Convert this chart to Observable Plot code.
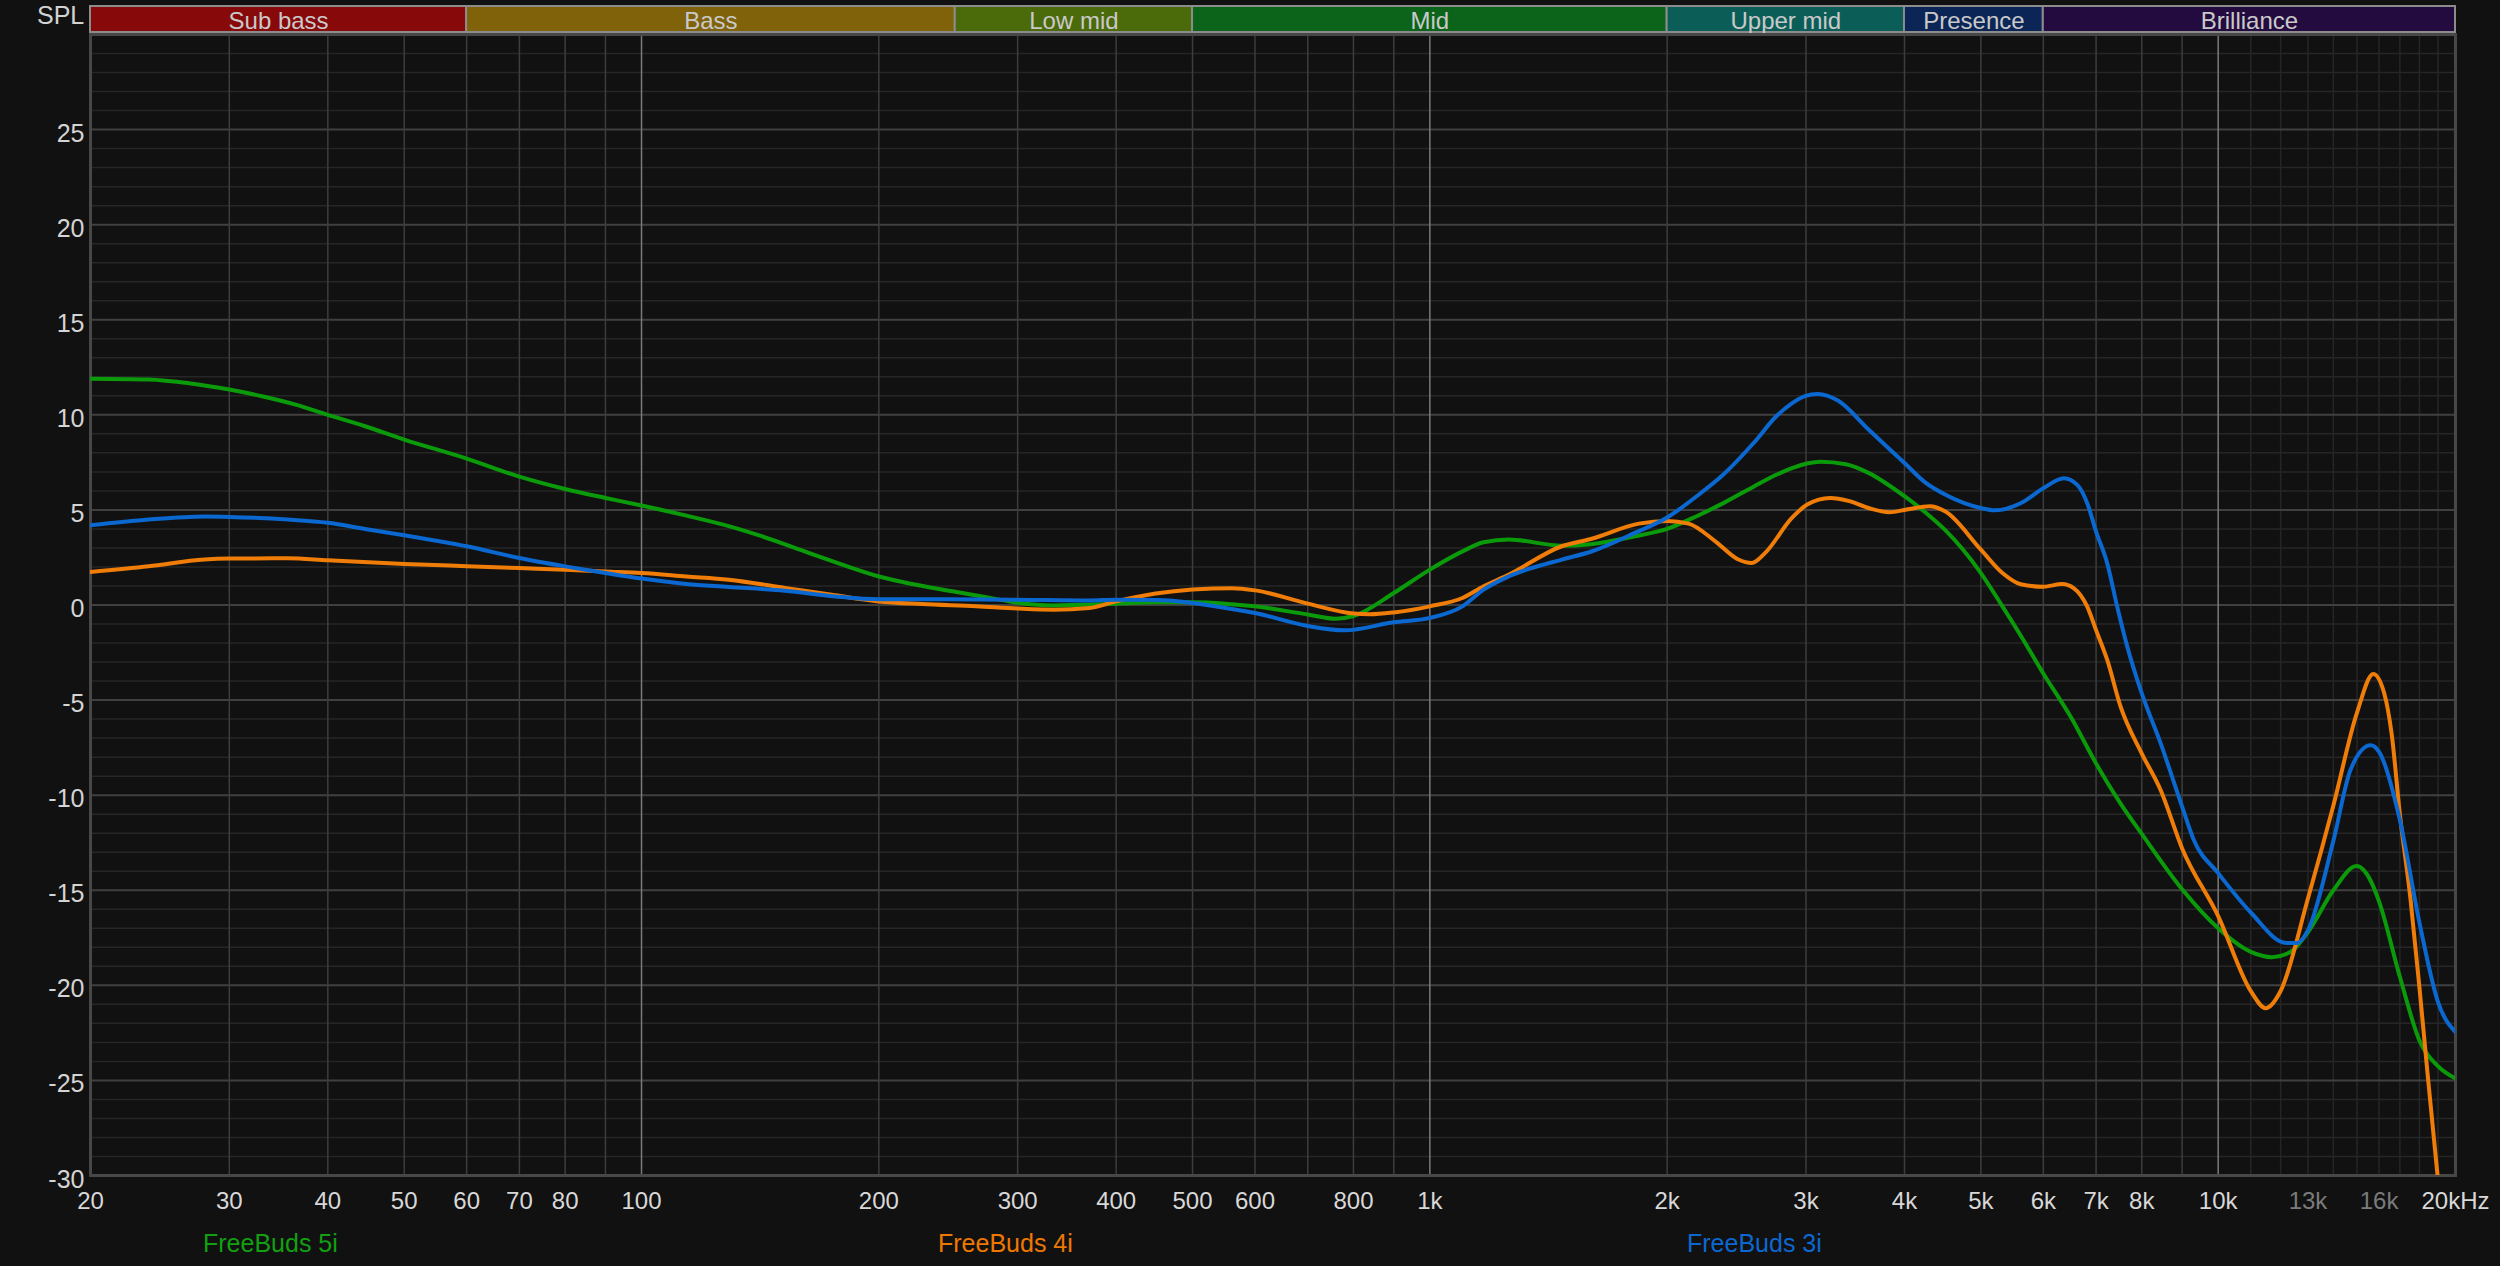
<!DOCTYPE html>
<html>
<head>
<meta charset="utf-8">
<script src="https://cdn.jsdelivr.net/npm/d3@7"></script>
<script src="https://cdn.jsdelivr.net/npm/@observablehq/plot@0.6"></script>
<style>
  html, body { margin: 0; padding: 0; background: #111111; }
  #root { position: relative; width: 2500px; height: 1266px; background: #111111; overflow: hidden;
          font-family: "Liberation Sans", Arial, sans-serif; }
  #bands { position: absolute; left: 0; top: 0; }
  #chart { position: absolute; left: 0; top: 30px; }
  #spl { position: absolute; left: 37px; top: 1px; font-size: 25px; line-height: 28px; color: #d2d2d2; }
  .leg { position: absolute; top: 1228px; font-size: 25px; line-height: 30px; white-space: nowrap; }
</style>
</head>
<body>
<div id="root">
  <div id="bands"></div>
  <div id="spl">SPL</div>
  <div id="chart"></div>
  <div id="legend"></div>
</div>
<script>
// ---------------- DATA ----------------
const bandNames = ["Sub bass", "Bass", "Low mid", "Mid", "Upper mid", "Presence", "Brilliance"];
const bandEdges = [20, 60, 250, 500, 2000, 4000, 6000, 20000];

const seriesNames = ["FreeBuds 5i", "FreeBuds 4i", "FreeBuds 3i"];

// [frequency Hz, SPL dB]
const freeBuds5i = [
  [20, 11.9], [23.7, 11.86], [26.8, 11.65], [30, 11.33], [33, 10.98], [36.4, 10.54], [40, 10.0],
  [44.6, 9.4], [50, 8.7], [60, 7.7], [70, 6.75], [80, 6.1], [90, 5.63], [100, 5.23], [114, 4.7],
  [129, 4.15], [142, 3.62], [162, 2.78], [176, 2.25], [200, 1.5], [215, 1.2], [248, 0.72], [277, 0.37],
  [300, 0.12], [333, -0.02], [400, 0.07], [450, 0.14], [500, 0.14], [550, 0.07], [600, -0.07],
  [700, -0.5], [760, -0.72], [800, -0.58], [900, 0.63], [1000, 1.86], [1100, 2.82], [1170, 3.3],
  [1260, 3.44], [1470, 3.12], [1600, 3.2], [1820, 3.61], [2000, 4.0], [2180, 4.67], [2360, 5.37],
  [2580, 6.25], [2755, 6.86], [2880, 7.2], [3130, 7.53], [3370, 7.4], [3600, 6.95], [4000, 5.72],
  [4260, 4.84], [4500, 3.96], [5000, 1.68], [5325, -0.07], [5616, -1.6], [6000, -3.6], [6500, -5.88],
  [7000, -8.33], [7520, -10.44], [8000, -12.04], [9000, -14.95], [10000, -17.0], [11000, -18.24],
  [11700, -18.52], [12360, -18.24], [13000, -17.2], [14000, -15.0], [14980, -13.73], [15610, -14.5],
  [16000, -15.6], [17000, -19.55], [18000, -22.9], [19000, -24.25], [20000, -24.9]
];

const freeBuds4i = [
  [20, 1.74], [23.7, 2.04], [27.9, 2.39], [30, 2.44], [35.6, 2.46], [40, 2.35], [50, 2.16], [60, 2.04],
  [70, 1.94], [80, 1.86], [90, 1.76], [100, 1.68], [114, 1.5], [129, 1.33], [152, 0.9], [176, 0.51],
  [200, 0.19], [227, 0.05], [266, -0.07], [300, -0.19], [333, -0.25], [370, -0.16], [400, 0.19],
  [449, 0.6], [500, 0.81], [561, 0.88], [600, 0.77], [700, 0.07], [800, -0.45], [839, -0.49],
  [900, -0.39], [1000, -0.07], [1100, 0.37], [1170, 0.98], [1260, 1.6], [1470, 3.09], [1600, 3.47],
  [1841, 4.28], [2000, 4.42], [2129, 4.28], [2302, 3.35], [2462, 2.39], [2561, 2.21], [2663, 2.74],
  [2879, 4.58], [3011, 5.28], [3220, 5.63], [3405, 5.46], [3601, 5.1], [3829, 4.88], [4027, 5.02],
  [4306, 5.19], [4503, 4.93], [5000, 2.91], [5325, 1.68], [5616, 1.09], [6000, 0.96], [6340, 1.1],
  [6562, 0.88], [6822, -0.09], [7000, -1.32], [7232, -2.89], [7520, -5.35], [8000, -7.81],
  [8454, -9.74], [9000, -12.8], [10000, -16.36], [11000, -20.3], [11486, -21.2], [12000, -20.3],
  [13000, -15.42], [14000, -10.54], [15000, -5.66], [15730, -3.63], [16230, -4.6], [16600, -6.8],
  [17000, -11.0], [17540, -15.5], [18000, -20.1], [18418, -24.5], [19000, -30.2], [19500, -35]
];

const freeBuds3i = [
  [20, 4.19], [23.7, 4.49], [27.9, 4.65], [30, 4.63], [35.6, 4.49], [40, 4.32], [44.6, 4.0], [50, 3.67],
  [60, 3.09], [70, 2.47], [80, 2.03], [90, 1.68], [100, 1.39], [114, 1.1], [129, 0.95], [152, 0.75],
  [176, 0.45], [200, 0.3], [246, 0.3], [300, 0.28], [370, 0.24], [400, 0.28], [450, 0.26], [500, 0.11],
  [551, -0.16], [600, -0.42], [700, -1.1], [779, -1.33], [900, -0.91], [1000, -0.68], [1100, -0.07],
  [1170, 0.81], [1260, 1.51], [1470, 2.39], [1600, 2.8], [1820, 3.79], [2000, 4.6], [2180, 5.72],
  [2357, 6.86], [2576, 8.53], [2755, 9.95], [2879, 10.6], [2990, 10.98], [3104, 11.1], [3293, 10.75],
  [3601, 9.23], [4000, 7.47], [4257, 6.42], [4503, 5.81], [5000, 5.1], [5208, 4.98], [5616, 5.35],
  [6000, 6.14], [6372, 6.67], [6626, 6.32], [6822, 5.35], [7000, 3.86], [7232, 2.19], [7446, -0.09],
  [7668, -2.19], [8000, -4.65], [8454, -7.28], [9000, -10.6], [9316, -12.37], [10000, -14.1],
  [11000, -16.17], [12200, -17.77], [12600, -17.77], [13000, -17.1], [14000, -12.4], [14720, -8.66],
  [15610, -7.38], [16000, -7.72], [17000, -11.3], [18000, -16.7], [19000, -20.87], [20000, -22.46]
];

const xTickValues = [20, 30, 40, 50, 60, 70, 80, 100, 200, 300, 400, 500, 600, 800, 1000, 2000, 3000,
                     4000, 5000, 6000, 7000, 8000, 10000, 13000, 16000, 20000];
const xTickLabels = ["20", "30", "40", "50", "60", "70", "80", "100", "200", "300", "400", "500", "600",
                     "800", "1k", "2k", "3k", "4k", "5k", "6k", "7k", "8k", "10k", "13k", "16k", "20kHz"];
const xTicksDim = [13000, 16000];
const yTickValues = [25, 20, 15, 10, 5, 0, -5, -10, -15, -20, -25, -30];

// Grid lines
const gridBright = [100, 1000, 10000];
const gridMid = [30, 40, 50, 60, 70, 80, 90, 200, 300, 400, 500, 600, 700, 800, 900,
                 2000, 3000, 4000, 5000, 6000, 7000, 8000, 9000];
const gridDim = [11000, 12000, 13000, 14000, 15000, 16000, 17000, 18000, 19000];
const dbMajor = [-25, -20, -15, -10, -5, 0, 5, 10, 15, 20, 25];
const dbMinor = d3.range(-29, 30).filter(v => v % 5 !== 0);

// ---------------- STYLE ----------------
const bandColors = ["#880909", "#7f6209", "#4b6a09", "#0b6419", "#0b5e58", "#0b2557", "#240b3f"];
const lineColors = ["#0a9a0a", "#f07d08", "#0a68d0"];
const legendColors = ["#12a012", "#ee7800", "#0c68d0"];
const W = 2500, ML = 90, MR = 45;
const xDomain = [20, 20000];

// ---------------- BANDS ----------------
const bands = bandNames.map((name, i) => ({name, lo: bandEdges[i], hi: bandEdges[i + 1], i}));
const bandPlot = Plot.plot({
  width: W, height: 34,
  marginLeft: ML, marginRight: MR, marginTop: 6, marginBottom: 2,
  style: {background: "transparent", fontFamily: "'Liberation Sans', Arial, sans-serif"},
  x: {type: "log", domain: xDomain, axis: null},
  marks: [
    Plot.rect(bands, {x1: "lo", x2: "hi", fill: d => bandColors[d.i], stroke: "#8c8c8c", strokeWidth: 2}),
    Plot.text(bands, {x: d => Math.sqrt(d.lo * d.hi), text: "name", fill: "#c9c9c9",
                      fontSize: 24, lineAnchor: "middle", dy: 2})
  ],
  color: {type: "identity"}
});
document.getElementById("bands").appendChild(bandPlot);

// ---------------- MAIN CHART ----------------
const toRows = (arr, s) => arr.map(([f, db]) => ({f, db, s}));
const allSeries = [freeBuds5i, freeBuds4i, freeBuds3i];

const chart = Plot.plot({
  width: W, height: 1236,
  marginLeft: ML, marginRight: MR, marginTop: 4, marginBottom: 91,
  style: {background: "transparent", fontFamily: "'Liberation Sans', Arial, sans-serif", overflow: "visible"},
  x: {type: "log", domain: xDomain, axis: null},
  y: {domain: [-30, 30], axis: null},
  marks: [
    Plot.ruleY(dbMinor, {stroke: "#262626", strokeWidth: 1.5}),
    Plot.ruleX(gridDim, {stroke: "#262626", strokeWidth: 1.5}),
    Plot.ruleY(dbMajor, {stroke: "#404040", strokeWidth: 2}),
    Plot.ruleX(gridMid, {stroke: "#3d3d3d", strokeWidth: 1.5}),
    Plot.ruleX(gridBright, {stroke: "#7a7a7a", strokeWidth: 1.5}),
    Plot.frame({stroke: "#474747", strokeWidth: 3}),
    ...allSeries.map((arr, k) =>
      Plot.line(toRows(arr, k), {x: "f", y: "db", stroke: lineColors[k], strokeWidth: 4,
                                 curve: "monotone-x", clip: true})
    ),
    Plot.text(yTickValues, {y: d => d, frameAnchor: "left", dx: -6, dy: 4, textAnchor: "end",
                            text: d => String(d), fill: "#d4d4d4", fontSize: 25}),
    Plot.text(xTickValues, {x: d => d, frameAnchor: "bottom", dy: 26, lineAnchor: "middle",
                            text: (d, i) => xTickLabels[i],
                            fill: d => xTicksDim.includes(d) ? "#7b7b7b" : "#d8d8d8", fontSize: 24})
  ],
  color: {type: "identity"}
});
document.getElementById("chart").appendChild(chart);

// ---------------- LEGEND ----------------
const legendLeft = [203, 938, 1687];
const legend = document.getElementById("legend");
seriesNames.forEach((name, k) => {
  const s = document.createElement("span");
  s.className = "leg";
  s.textContent = name;
  s.style.left = legendLeft[k] + "px";
  s.style.color = legendColors[k];
  legend.appendChild(s);
});
</script>
</body>
</html>
